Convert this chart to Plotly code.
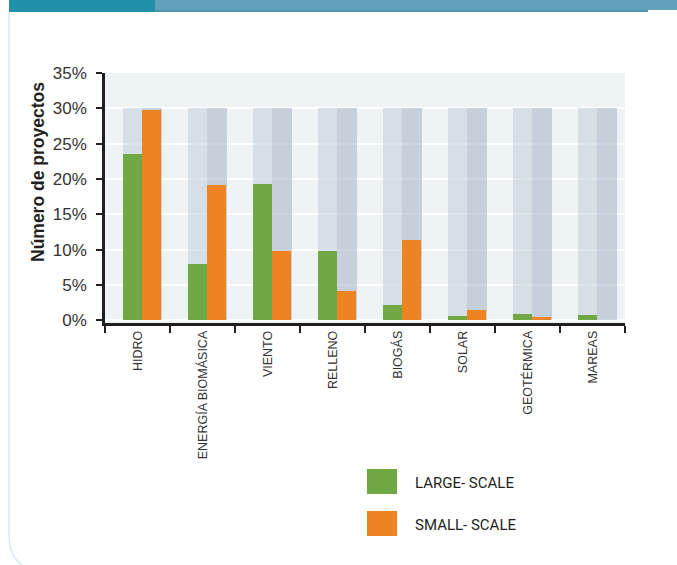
import plotly.graph_objects as go

# Share of projects by technology (%)
categorias = ["HIDRO", "ENERGÍA BIOMÁSICA", "VIENTO", "RELLENO", "BIOGÁS",
              "SOLAR", "GEOTÉRMICA", "MAREAS"]
gran_escala = [23.6, 8.0, 19.3, 9.8, 2.1, 0.6, 0.9, 0.7]
pequena_escala = [29.7, 19.2, 9.8, 4.2, 11.3, 1.4, 0.5, 0.0]
fondo = [30, 30, 30, 30, 30, 30, 30, 30]
ticks_y = [0, 5, 10, 15, 20, 25, 30, 35]
etiquetas_y = [f"{v}%" for v in ticks_y]
leyenda = ["LARGE- SCALE", "SMALL- SCALE"]

VERDE = "#6fa844"
NARANJA = "#ee8322"
TINTA = "#231f20"

W, H = 677, 565
L, R, T, B = 105, 52, 73, 242
PW, PH = W - L - R, H - T - B


def px(x):
    return (x - L) / PW


def py(y):
    return (H - B - y) / PH


BAR_W = 0.29
OFF_A = -0.218
OFF_B = 0.069

fig = go.Figure()
fig.add_trace(go.Bar(x=categorias, y=fondo, offset=OFF_A, width=BAR_W,
                     marker=dict(color="rgba(200,210,220,0.6)", line_width=0),
                     showlegend=False, hoverinfo="skip"))
fig.add_trace(go.Bar(x=categorias, y=fondo, offset=OFF_B, width=0.305,
                     marker=dict(color="rgba(170,185,201,0.6)", line_width=0),
                     showlegend=False, hoverinfo="skip"))
fig.add_trace(go.Bar(x=categorias, y=gran_escala, offset=OFF_A, width=BAR_W,
                     marker=dict(color=VERDE, line_width=0), name=leyenda[0],
                     showlegend=False))
fig.add_trace(go.Bar(x=categorias, y=pequena_escala, offset=OFF_B, width=BAR_W,
                     marker=dict(color=NARANJA, line_width=0), name=leyenda[1],
                     showlegend=False))

shapes = []
# header band and page frame
shapes.append(dict(type="rect", xref="paper", yref="paper", x0=px(9), x1=px(155),
                   y0=py(0), y1=py(12), fillcolor="#2390aa", line_width=0, layer="above"))
shapes.append(dict(type="rect", xref="paper", yref="paper", x0=px(155), x1=px(677),
                   y0=py(0), y1=py(10), fillcolor="#62a1bb", line_width=0, layer="above"))
shapes.append(dict(type="rect", xref="paper", yref="paper", x0=px(155), x1=px(648),
                   y0=py(10), y1=py(12), fillcolor="#4f97b0", line_width=0, layer="above"))
frame_path = (f"M {px(9)},{py(12)} L {px(9)},{py(535)} "
              f"Q {px(9)},{py(556)} {px(23)},{py(566)}")
shapes.append(dict(type="path", xref="paper", yref="paper", path=frame_path,
                   line=dict(color="#d2ebf7", width=1.5), layer="above"))

# legend swatches
annotations = []
for i, (col, txt) in enumerate(zip([VERDE, NARANJA], leyenda)):
    y0 = 469 + i * 42
    shapes.append(dict(type="rect", xref="paper", yref="paper",
                       x0=px(367), x1=px(397), y0=py(y0), y1=py(y0 + 25),
                       fillcolor=col, line_width=0))
    annotations.append(dict(xref="paper", yref="paper", x=px(413), y=py(y0 + 14),
                            text=txt, showarrow=False, xanchor="left", yanchor="middle",
                            font=dict(family="Roboto", size=15, color=TINTA)))

annotations.append(dict(xref="paper", yref="paper", x=px(38), y=py(172),
                        text="<b>Número de proyectos</b>", textangle=-90,
                        showarrow=False, xanchor="center", yanchor="middle",
                        font=dict(family="Liberation Sans", size=17.5, color=TINTA)))

fig.update_layout(
    width=W, height=H,
    margin=dict(l=L, r=R, t=T, b=B, autoexpand=False),
    paper_bgcolor="white",
    plot_bgcolor="#eef3f6",
    barmode="overlay",
    bargap=0,
    showlegend=False,
    shapes=shapes,
    annotations=annotations,
    font=dict(family="Liberation Sans", color=TINTA),
)
fig.update_xaxes(
    type="category", range=[-0.5, 7.5], tickson="boundaries",
    ticks="outside", ticklen=7, tickwidth=2, tickcolor=TINTA,
    showline=True, linecolor=TINTA, linewidth=2.5,
    showgrid=False, tickangle=-90,
    tickfont=dict(family="Liberation Sans", size=12.5, color="#333333"),
)
fig.update_yaxes(
    range=[-0.4, 35], tickvals=ticks_y, ticktext=etiquetas_y,
    ticks="outside", ticklen=6, tickwidth=2, tickcolor=TINTA,
    showline=True, linecolor=TINTA, linewidth=2.5,
    showgrid=True, gridcolor="white", gridwidth=2, zeroline=False,
    ticklabelstandoff=6,
    tickfont=dict(family="Liberation Sans", size=17, color="#333333"),
)

fig.write_html("out.html")
